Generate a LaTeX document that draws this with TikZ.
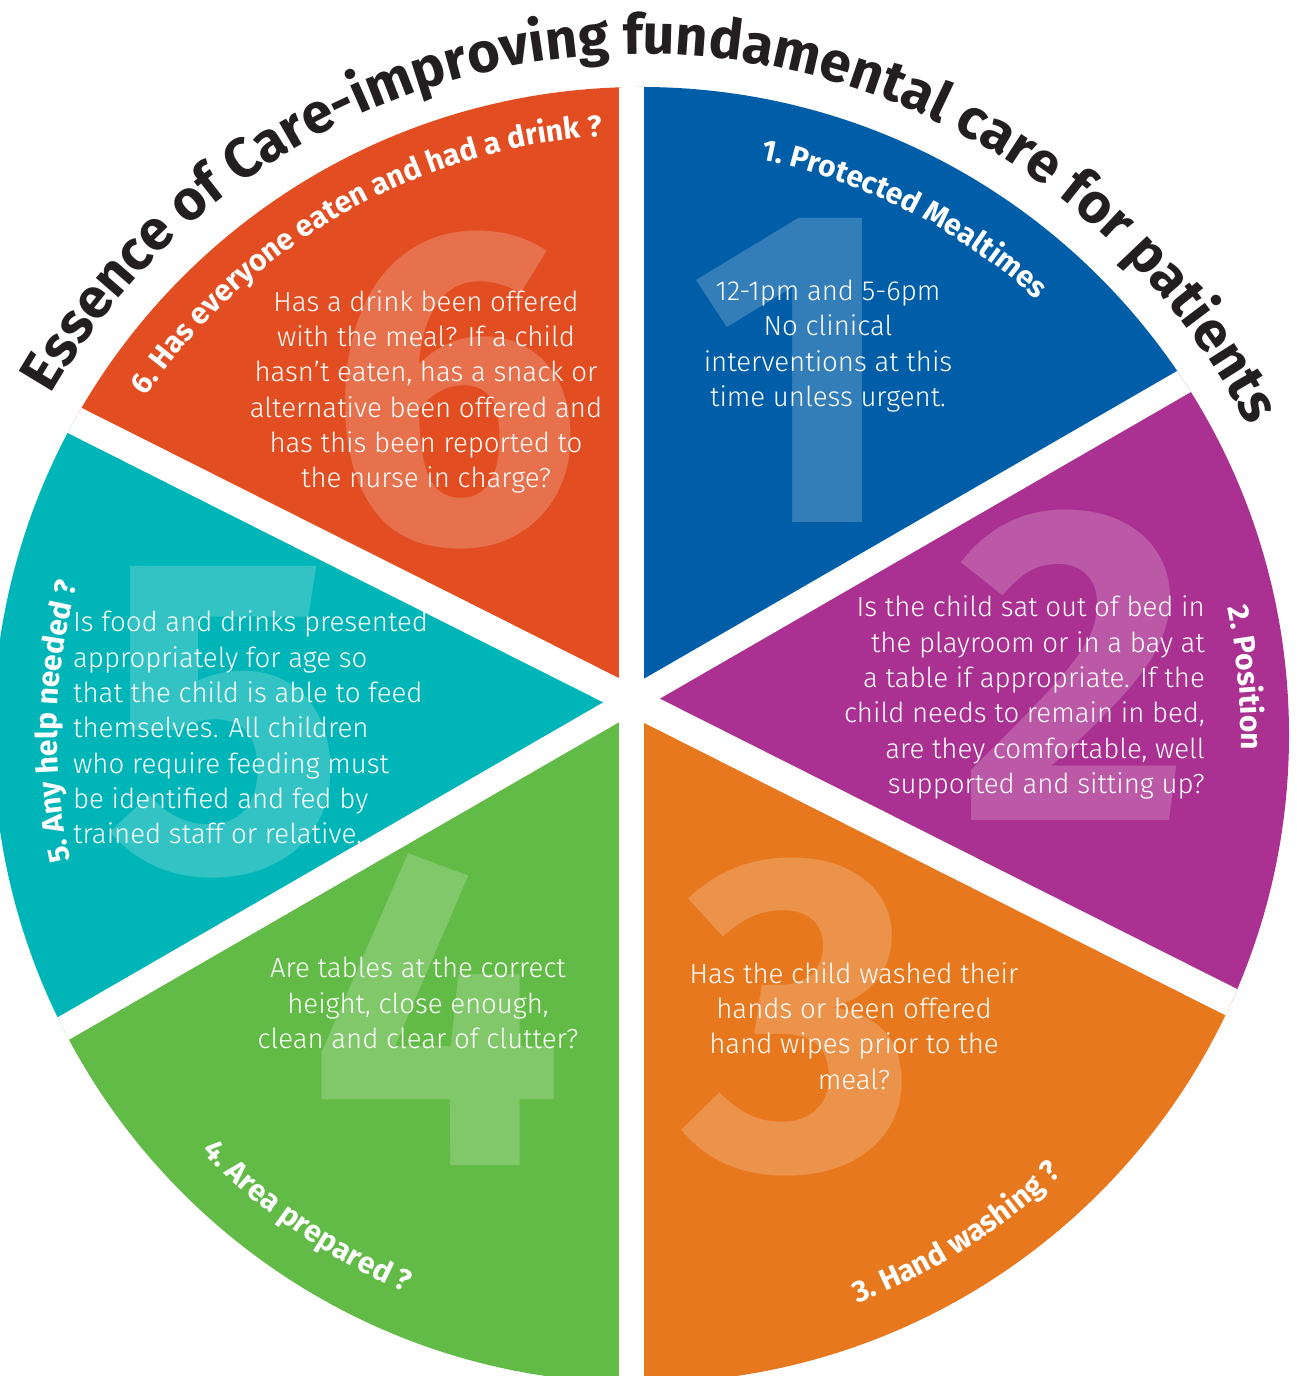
\documentclass[tikz,border=0pt]{standalone}
\usepackage{fontspec}
\setmainfont{Fira Sans}
\newfontfamily\lightfont{Fira Sans Light}
\usepackage{tikz}
\usetikzlibrary{calc,decorations.text}

\definecolor{mealblue}{RGB}{0,94,168}
\definecolor{posviolet}{RGB}{170,48,145}
\definecolor{washorange}{RGB}{232,120,30}
\definecolor{areagreen}{RGB}{98,187,70}
\definecolor{helpteal}{RGB}{0,181,183}
\definecolor{drinkred}{RGB}{226,78,33}
\definecolor{titleblack}{RGB}{35,31,32}

\newcommand\titlefmt{\bfseries\fontsize{56}{56}\selectfont\color{titleblack}}
\newcommand\labelfmt{\bfseries\fontsize{30}{30}\selectfont\color{white}}

\begin{document}
\begin{tikzpicture}[x=1pt,y=1pt,
    bignum/.style={text=white,opacity=0.2,inner sep=0pt,font=\bfseries\fontsize{450}{450}\selectfont},
    bodytext/.style={text=white,inner sep=0pt,font=\lightfont\fontsize{27.6}{35.3}\selectfont},
    gapline/.style={white,line width=25pt}
]
\useasboundingbox (0,0) rectangle (1296,1376);

\coordinate (apex) at (631.5,675.5);
\coordinate (ctr) at (641,641);

% Sectors
\begin{scope}
 \clip (ctr) circle[radius=648];
 \fill[mealblue] (apex) -- ($(apex)+(30:1500)$) -- ($(apex)+(90:1500)$) -- cycle;
 \fill[posviolet] (apex) -- ($(apex)+(-26.7:1500)$) -- ($(apex)+(30:1500)$) -- cycle;
 \fill[washorange] (apex) -- ($(apex)+(-90:1500)$) -- ($(apex)+(-26.7:1500)$) -- cycle;
 \fill[areagreen] (apex) -- ($(apex)+(210:1500)$) -- ($(apex)+(270:1500)$) -- cycle;
 \fill[helpteal] (apex) -- ($(apex)+(153.3:1500)$) -- ($(apex)+(210:1500)$) -- cycle;
 \fill[drinkred] (apex) -- ($(apex)+(90:1500)$) -- ($(apex)+(153.3:1500)$) -- cycle;

 % Big numbers
 \node[bignum] (big1) at (795,1006) {1};
 \node[bignum] (big2) at (1075,711) {2};
 \node[bignum] (big3) at (800,359) {3};
 \node[bignum] (big4) at (437,366) {4};
 \node[bignum] (big5) at (225,654) {5};
 \node[bignum] (big6) at (455,986) {6};

 % Gaps
 \draw[gapline] ($(apex)+(90:1500)$) -- ($(apex)+(-90:1500)$);
 \draw[gapline] ($(apex)+(30:1500)$) -- ($(apex)+(210:1500)$);
 \draw[gapline,line width=28.6pt] ($(apex)+(153.3:1500)$) -- ($(apex)+(-26.7:1500)$);
\end{scope}

% Title
\path[decorate,decoration={text along path,text align=center,
  text={|\titlefmt|Essence of Care-improving fundamental care for patients}}]
  ($(ctr)+(178.5:681)$) arc[start angle=178.5,end angle=-1.5,radius=681];

% Sector labels
\path[decorate,decoration={text along path,text align=center,
  text={|\labelfmt|1. Protected Mealtimes}}]
  ($(ctr)+(113:588)$) arc[start angle=113,end angle=13,radius=588];
\path[decorate,decoration={text along path,text align=center,
  text={|\labelfmt|2. Position}}]
  ($(ctr)+(55.4:600)$) arc[start angle=55.4,end angle=-44.6,radius=600];
\path[decorate,decoration={text along path,text align=center,
  text={|\labelfmt|3. Hand washing ?}}]
  ($(ctr)+(-97.7:608)$) arc[start angle=-97.7,end angle=-17.7,radius=608];
\path[decorate,decoration={text along path,text align=center,
  text={|\labelfmt|4. Area prepared ?}}]
  ($(ctr)+(195.3:605)$) arc[start angle=195.3,end angle=275.3,radius=605];
\path[decorate,decoration={text along path,text align=center,
  text={|\labelfmt|5. Any help needed ?}}]
  ($(ctr)+(228.7:584)$) arc[start angle=228.7,end angle=128.7,radius=584];
\path[decorate,decoration={text along path,text align=center,
  text={|\labelfmt|6. Has everyone eaten and had a drink ?}}]
  ($(ctr)+(169.7:600)$) arc[start angle=169.7,end angle=69.7,radius=600];

% Texts
\node[bodytext,align=center] (meal) at (828,1030)
  {12-1pm and 5-6pm\\No clinical\\interventions at this\\time unless urgent.};
\node[bodytext,align=right,anchor=east] (pos) at (1205,678.5)
  {Is the child sat out of bed in\\the playroom or in a bay at\\a table if appropriate. If the\\child needs to remain in bed,\\are they comfortable, well\\supported and sitting up?};
\node[bodytext,align=center] (wash) at (854,350)
  {Has the child washed their\\hands or been offered\\hand wipes prior to the\\meal?};
\node[bodytext,align=center] (area) at (418,373)
  {Are tables at the correct\\height, close enough,\\clean and clear of clutter?};
\node[bodytext,align=left,anchor=west] (help) at (73,648.5)
  {Is food and drinks presented\\appropriately for age so\\that the child is able to feed\\themselves. All children\\who require feeding must\\be identified and fed by\\trained staff or relative.};
\node[bodytext,align=center] (drink) at (426,984)
  {Has a drink been offered\\with the meal? If a child\\hasn’t eaten, has a snack or\\alternative been offered and\\has this been reported to\\the nurse in charge?};

\end{tikzpicture}
\end{document}
